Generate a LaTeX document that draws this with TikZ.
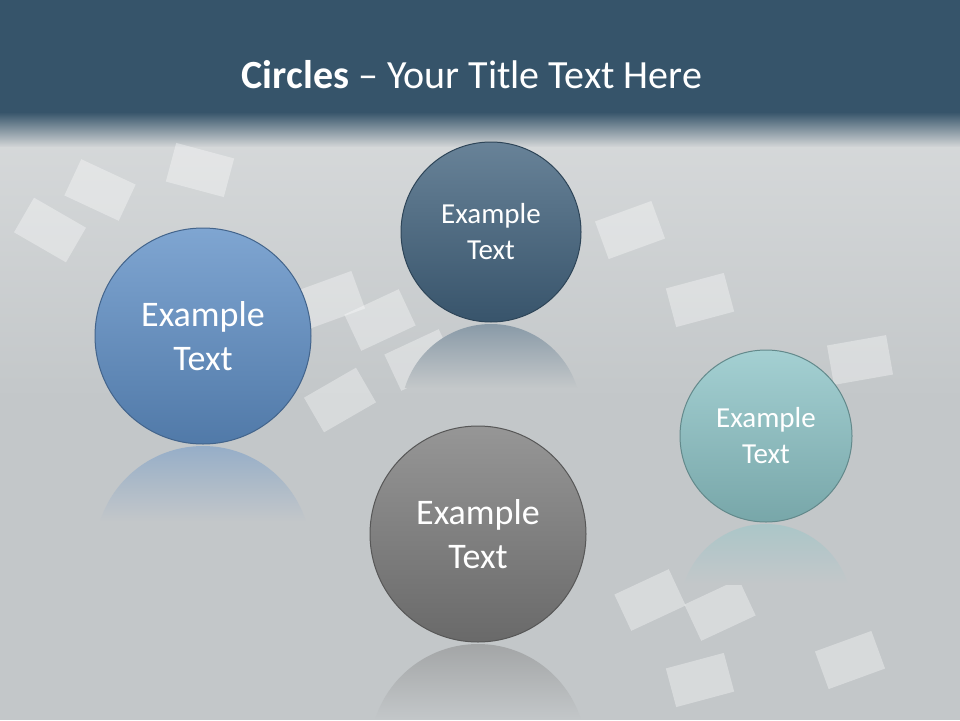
\documentclass[tikz,border=0pt]{standalone}
\usepackage{fontspec}
\setmainfont{Carlito}
\definecolor{barc}{HTML}{36546A}
\definecolor{bgc}{HTML}{C3C7C9}
\definecolor{cblue}{HTML}{5F8FC6}
\definecolor{cdark}{HTML}{42637E}
\definecolor{cgrey}{HTML}{7C7C7C}
\definecolor{cteal}{HTML}{8DC4C7}
\tikzset{
  bub/.style={circle, draw=#1!70!black, line width=1pt, top color=#1!80!white, bottom color=#1!85!black, text=white, align=center, inner sep=0pt},
  paper/.style={fill=white, opacity=0.35}
}
\newcommand{\reflect}[4]{% color, x, ytop, r
  \begin{scope}
  \clip (#2,#3+#4) circle (#4);
  \shade[top color=#1!45!bgc, bottom color=bgc] (#2-#4,#3) rectangle (#2+#4,#3+0.7*#4);
  \end{scope}}
\begin{document}
\begin{tikzpicture}[x=1pt,y=-1pt]
\useasboundingbox (0,0) rectangle (960,720);
\fill[bgc] (0,0) rectangle (960,720);
\shade[top color=bgc!70!white, bottom color=bgc] (0,145) rectangle (960,400);
\fill[barc] (0,0) rectangle (960,112);
\shade[top color=barc, bottom color=bgc!80!white] (0,112) rectangle (960,146);
\foreach \x/\y/\a in {200/170/-15,630/230/20,700/300/15,330/300/20,380/320/25,420/360/25,340/400/30,650/600/25,720/610/25,850/660/20,700/680/15,50/230/-30,100/190/-25,860/360/10}{
  \fill[paper, rotate around={\a:(\x,\y)}] (\x-30,\y-20) rectangle (\x+30,\y+20);
}
\node[text=white, font=\fontsize{40}{48}\selectfont] (title) at (472,75) {\textbf{Circles} -- Your Title Text Here};
\reflect{cblue}{203}{446}{108}
\reflect{cdark}{491}{324}{90}
\reflect{cgrey}{478}{644}{108}
\reflect{cteal}{766}{524}{86}
\node[bub=cblue, minimum size=216pt, font=\fontsize{36}{44}\selectfont] (c1) at (203,336) {Example\\Text};
\node[bub=cdark, minimum size=180pt, font=\fontsize{29}{36}\selectfont] (c2) at (491,232) {Example\\Text};
\node[bub=cgrey, minimum size=216pt, font=\fontsize{36}{44}\selectfont] (c3) at (478,534) {Example\\Text};
\node[bub=cteal, minimum size=172pt, font=\fontsize{29}{36}\selectfont] (c4) at (766,436) {Example\\Text};
\end{tikzpicture}
\end{document}
